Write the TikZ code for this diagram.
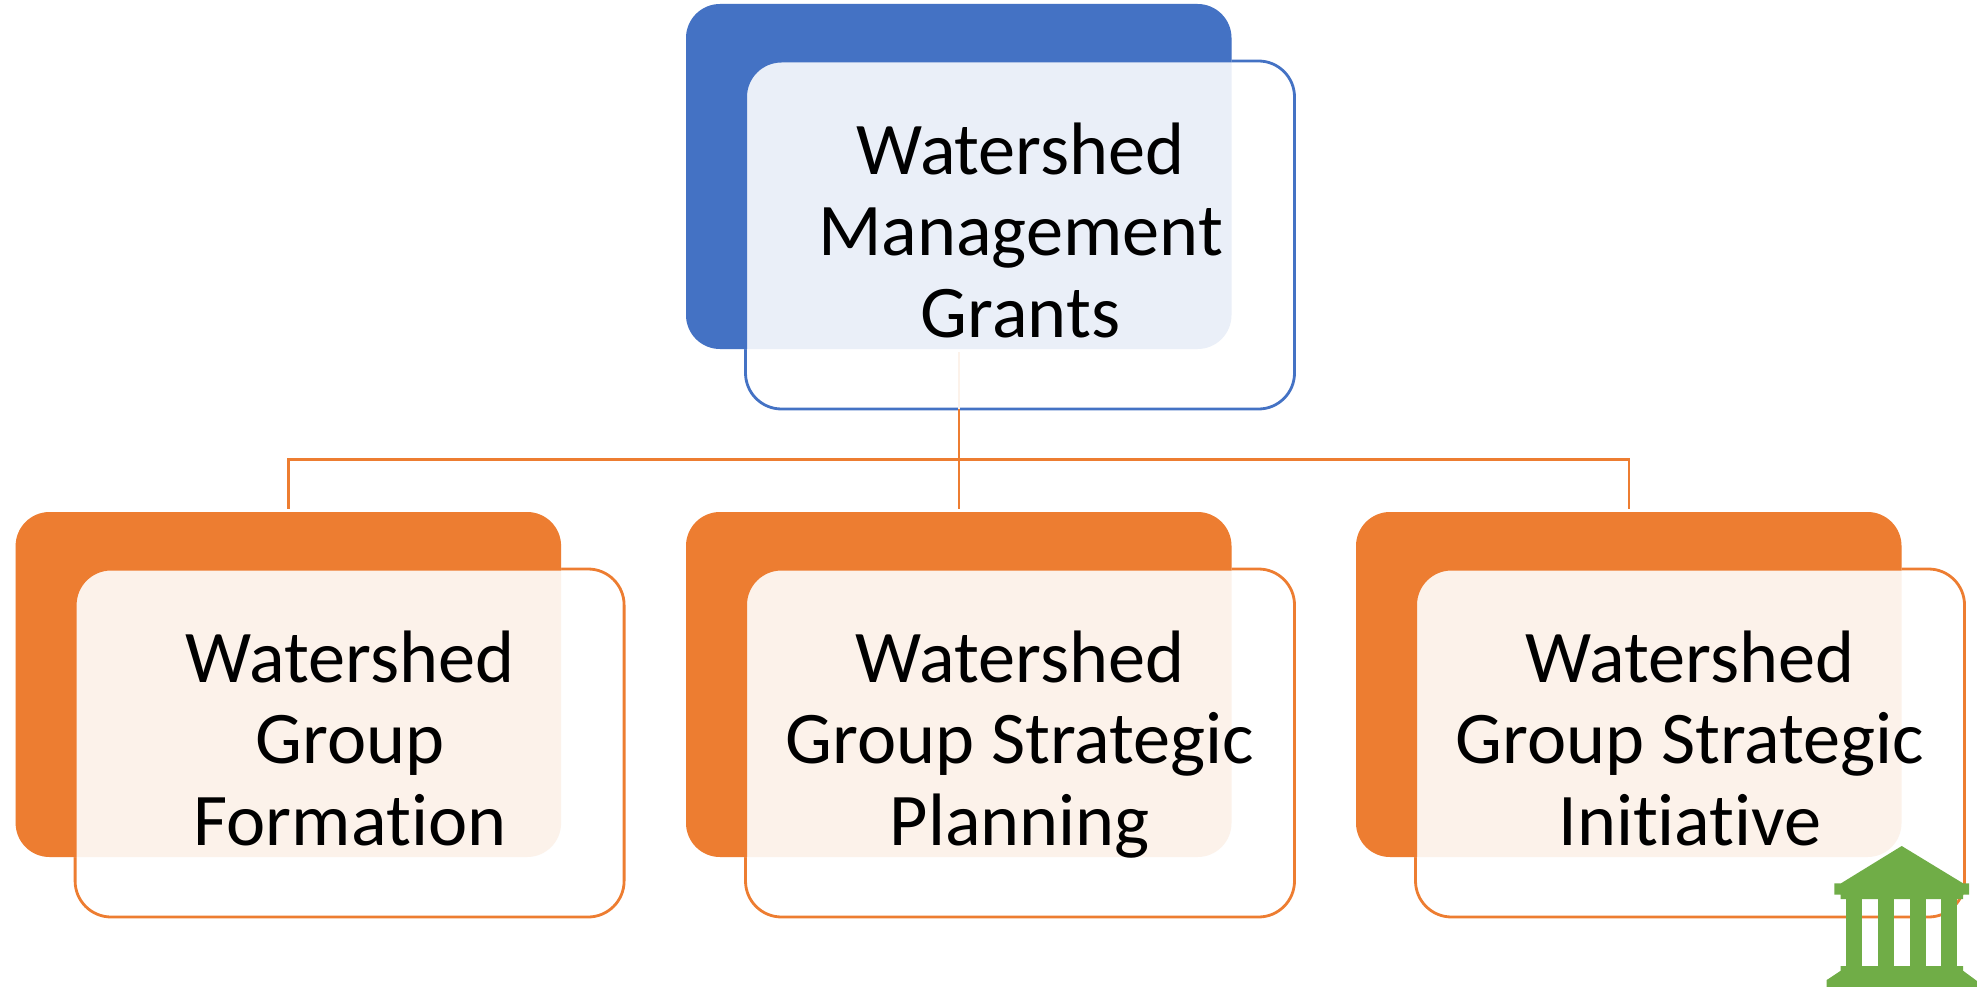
\documentclass[tikz,border=0pt]{standalone}
\usepackage{fontspec}
\setmainfont{Carlito}[Ligatures=NoCommon]
\definecolor{cblue}{HTML}{4472C4}
\definecolor{corange}{HTML}{ED7D31}
\definecolor{lblue}{HTML}{EAEFF8}
\definecolor{lorange}{HTML}{FCF2EA}
\definecolor{cgreen}{HTML}{70AD47}
\tikzset{
  backbox/.style={rectangle,rounded corners=34pt,minimum width=545.5pt,minimum height=345pt,inner sep=0pt,outer sep=0pt},
  outerbox/.style={rectangle,rounded corners=36pt,draw,line width=2.8pt,fill=white,minimum width=549pt,minimum height=348pt,inner sep=0pt,outer sep=0pt},
  label/.style={align=center,font=\fontsize{74.3}{81.7}\selectfont,text=black,inner sep=0pt},
  conn/.style={corange,line width=2.5pt},
  paleconn/.style={lorange,line width=2.5pt},
}
% #1 name, #2 left of back box, #3 top of back box, #4 strong colour, #5 pale colour
\newcommand{\gcard}[5]{%
  \node[outerbox,draw=#4,anchor=north west] (#1outer) at (#2+59.5,#3+57) {};
  \node[backbox,fill=#5,anchor=north west] (#1back) at (#2,#3) {};
  \begin{scope}[even odd rule]
    \clip[rounded corners=34.5pt] (#2-5,#3-5) rectangle (#2+640,#3+420) (#2+61,#3+58.5) rectangle (#2+607,#3+403.5);
    \fill[#4,rounded corners=34pt] (#1back.south west) rectangle (#1back.north east);
  \end{scope}
}
\begin{document}
\begin{tikzpicture}[x=1pt,y=-1pt]
\useasboundingbox (0,0) rectangle (1977,987);
\gcard{top}{686}{4}{cblue}{lblue}
\gcard{a}{15.6}{512}{corange}{lorange}
\gcard{b}{686}{512}{corange}{lorange}
\gcard{c}{1356}{512}{corange}{lorange}
\coordinate (bus) at (958.75,459.7);
\draw[paleconn,shorten >=3pt] (topouter.south -| bus) -- (topback.south -| bus);
\draw[conn] (bus) -- (topouter.south -| bus);
\draw[conn,shorten >=3pt] (bus) -- (bback.north);
\draw[conn,shorten >=3pt] (bus) -| (aback.north);
\draw[conn,shorten >=3pt] (bus) -| (cback.north);
\node[label] (toplabel) at (1020.5,239.5) {\strut Watershed\\Management\\Grants\strut};
\node[label] (alabel) at (350,747.5) {\strut Watershed\\Group\\Formation\strut};
\node[label] (blabel) at (1020,747.5) {\strut Watershed\\Group Strategic\\Planning\strut};
\node[label] (clabel) at (1690,747.5) {\strut Watershed\\Group Strategic\\Initiative\strut};
\fill[cgreen] (1901.7,846) -- (1841,883.3) -- (1834.3,883.3) -- (1834.3,894.7) -- (1840.7,894.7) -- (1840.7,899) -- (1963,899) -- (1963,894.7) -- (1969,894.7) -- (1969,883.3) -- (1963,883.3) -- cycle;
\fill[cgreen] (1846.3,899) rectangle (1862.3,966);
\fill[cgreen] (1878.3,899) rectangle (1894,966);
\fill[cgreen] (1910,899) rectangle (1925.7,966);
\fill[cgreen] (1941.3,899) rectangle (1957.3,966);
\fill[cgreen] (1840.7,966) -- (1963,966) -- (1963,970.7) -- (1977,981) -- (1977,987) -- (1826.7,987) -- (1826.7,980) -- (1840.7,970.7) -- cycle;
\end{tikzpicture}
\end{document}
